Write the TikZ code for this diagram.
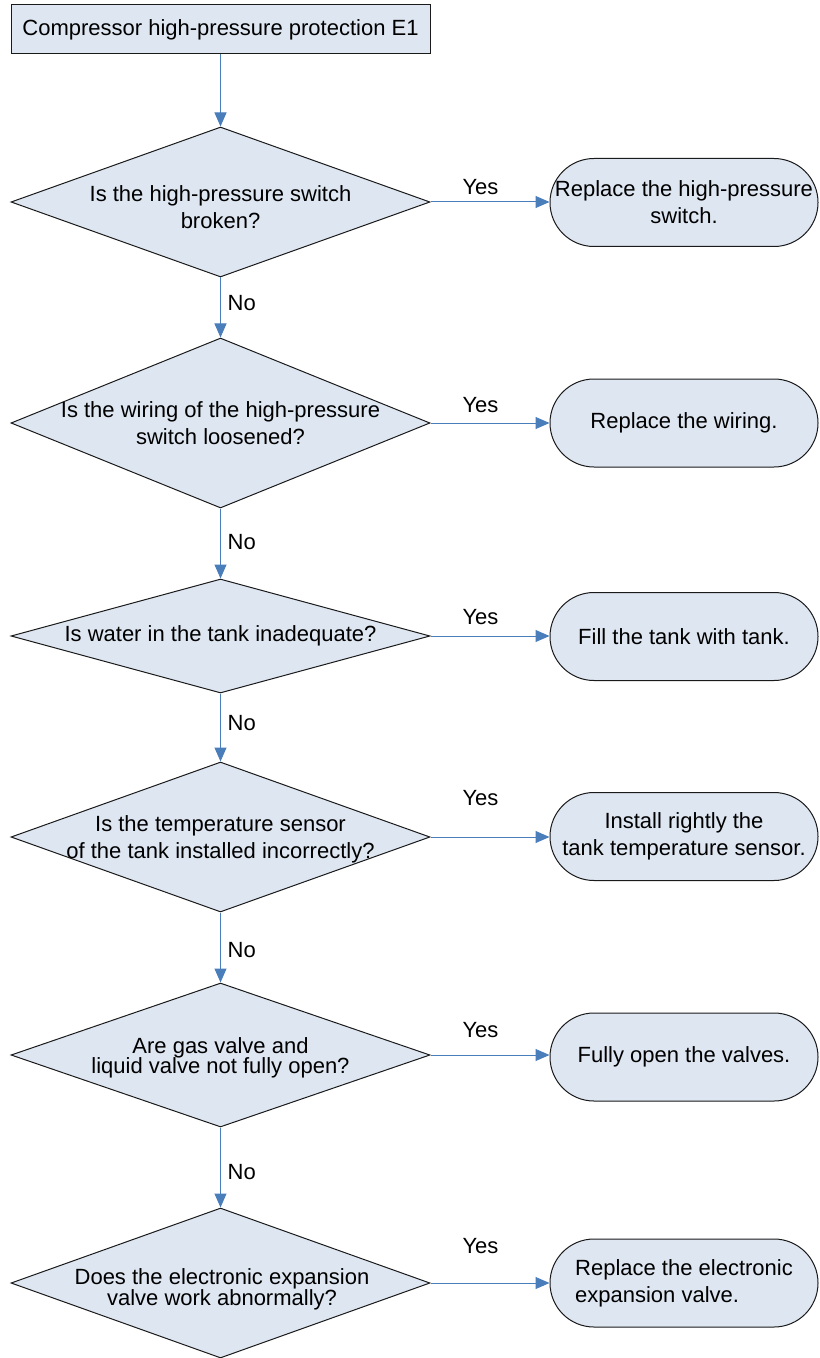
\documentclass[tikz,border=0pt]{standalone}
\usepackage{fontspec}
\setmainfont{Liberation Sans}
\usetikzlibrary{arrows.meta, positioning, shapes.geometric}
\definecolor{fcfill}{HTML}{DEE6F1}
\definecolor{fcline}{HTML}{4A7EBB}
\definecolor{fcedge}{HTML}{1A1A1A}

\begin{document}
\begin{tikzpicture}[x=0.5pt, y=-0.5pt, font=\fontsize{11}{13.5}\selectfont,
    startbox/.style={draw=fcedge, fill=fcfill, line width=.5pt, minimum width=209.5pt,
                     minimum height=24.5pt, inner sep=0pt},
    decision/.style={diamond, draw=fcedge, fill=fcfill, line width=.5pt,
                     minimum width=209.5pt, inner sep=0pt},
    qtext/.style={align=center, inner sep=0pt},
    action/.style={draw=fcedge, fill=fcfill, line width=.5pt, rounded corners=22pt,
                   minimum width=134pt, minimum height=44pt, align=center, inner sep=0pt},
    flow/.style={-{Triangle[length=7pt, width=6pt]}, draw=fcline, line width=.5pt}]
  \useasboundingbox (0,0) rectangle (819,1358);
  \node[startbox] (start) at (220.5,29.5) {Compressor high-pressure protection E1};

  \node[decision, minimum height=75pt] (q1) at (220.5,202) {};
  \node[qtext] (q1t) at (220.5,207) {Is the high-pressure switch\\broken?};
  \node[decision, minimum height=85pt] (q2) at (220.5,423) {};
  \node[qtext] (q2t) at (q2) {Is the wiring of the high-pressure\\switch loosened?};
  \node[decision, minimum height=57pt] (q3) at (220.5,636) {};
  \node[qtext] (q3t) at (q3) {Is water in the tank inadequate?};
  \node[decision, minimum height=75pt] (q4) at (220.5,837) {};
  \node[qtext] (q4t) at (220.5,839) {Is the temperature sensor\\of the tank installed incorrectly?};
  \node[decision, minimum height=72pt] (q5) at (220.5,1055) {};
  \node[qtext] (q5t) at (220.5,1058) {Are gas valve and\\[-3.5pt]liquid valve not fully open?};
  \node[decision, minimum height=75pt] (q6) at (220.5,1283) {};
  \node[qtext] (q6t) at (222,1289) {Does the electronic expansion\\[-3pt]valve work abnormally?};

  \node[action] (r1) at (684,202.5) {Replace the high-pressure\\switch.};
  \node[action] (r2) at (684,423) {Replace the wiring.};
  \node[action] (r3) at (684,636.5) {Fill the tank with tank.};
  \node[action] (r4) at (684,836.5) {Install rightly the\\tank temperature sensor.};
  \node[action] (r5) at (684,1057) {Fully open the valves.};
  \node[action, align=left] (r6) at (684,1283) {Replace the electronic\\expansion valve.};

  \draw[flow] (start.south) -- (q1.north);
  \foreach \a/\b/\p in {q1/q2/.43, q2/q3/.48, q3/q4/.43, q4/q5/.53, q5/q6/.56}
    \draw[flow] (\a.south) -- node[right, pos=\p] {No} (\b.north);
  \foreach \i/\dy in {1/3.5, 2/5.5, 3/6, 4/16, 5/9, 6/15}
    \draw[flow] (q\i.east) -- node[pos=.42, anchor=base, yshift=\dy pt] {Yes} (q\i.east -| r\i.west);
\end{tikzpicture}
\end{document}
